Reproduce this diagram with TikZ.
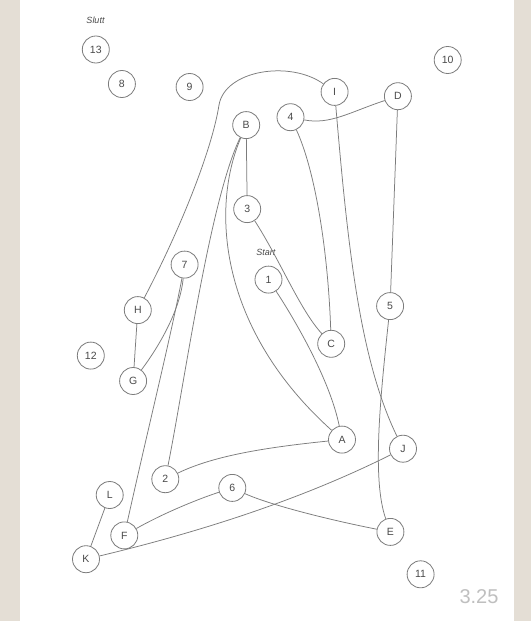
\documentclass[tikz,border=0pt]{standalone}
\usepackage{fontspec}
\setmainfont{Liberation Sans}
\definecolor{paperbg}{HTML}{E4DED5}
\definecolor{pencil}{HTML}{7C7C7C}
\definecolor{ink}{HTML}{4A4A4A}

\begin{document}
\begin{tikzpicture}[
  x=1pt, y=-1pt,
  circ/.style={draw=pencil, circle, line width=0.8pt, minimum size=27pt, inner sep=0pt, text=ink, font=\fontsize{10.5}{11}\selectfont},
  tag/.style={text=ink, inner sep=0pt, font=\fontsize{9}{10}\selectfont\itshape},
  trail/.style={draw=pencil, line width=0.75pt}
]
\fill[paperbg] (0,0) rectangle (531,621);
\fill[white] (20,0) rectangle (514,621);
\useasboundingbox (0,0) rectangle (531,621);

% numbers
\node[circ] (n13) at (95.8,49.5) {13};
\node[circ] (n8) at (121.9,84) {8};
\node[circ] (n9) at (189.6,87) {9};
\node[circ] (n10) at (447.7,60) {10};
\node[circ] (n4) at (290.5,117.2) {4};
\node[circ] (n3) at (247.2,209.1) {3};
\node[circ] (n1) at (268.5,279.6) {1};
\node[circ] (n7) at (184.6,264.6) {7};
\node[circ] (n5) at (390.1,306.1) {5};
\node[circ] (n12) at (90.8,355.6) {12};
\node[circ] (n2) at (165.3,479.2) {2};
\node[circ] (n6) at (232.3,487.9) {6};
\node[circ] (n11) at (420.6,574.3) {11};

% letters
\node[circ] (I) at (334.6,91.9) {I};
\node[circ] (D) at (397.9,96.2) {D};
\node[circ] (B) at (246.2,125.1) {B};
\node[circ] (H) at (137.8,310.1) {H};
\node[circ] (C) at (331.2,343.8) {C};
\node[circ] (G) at (133.1,381) {G};
\node[circ] (A) at (342,439.6) {A};
\node[circ] (J) at (403,448.7) {J};
\node[circ] (L) at (109.7,495) {L};
\node[circ] (F) at (124.3,535.4) {F};
\node[circ] (E) at (390.4,531.9) {E};
\node[circ] (K) at (86,559.2) {K};

% tags
\node[tag] (slutt) at (95.5,20.6) {Slutt};
\node[tag] (start) at (265.8,251.9) {Start};
\node[text=gray!50, font=\fontsize{20}{22}\selectfont] (score) at (479,597) {3.25};

% trail
\draw[trail] (n1) .. controls (295,320) and (330,380) .. (A);
\draw[trail] (B) .. controls (210,210) and (220,330) .. (A);
\draw[trail] (A) .. controls (270,447) and (215,455) .. (n2);
\draw[trail] (n2) .. controls (185,380) and (210,200) .. (B);
\draw[trail] (B) -- (n3);
\draw[trail] (n3) .. controls (280,260) and (300,310) .. (C);
\draw[trail] (n4) .. controls (315,170) and (328,250) .. (C);
\draw[trail] (n4) .. controls (330,125) and (350,112) .. (D);
\draw[trail] (D) -- (n5);
\draw[trail] (n5) .. controls (380,400) and (372,480) .. (E);
\draw[trail] (E) .. controls (330,520) and (270,505) .. (n6);
\draw[trail] (n6) .. controls (195,500) and (160,515) .. (F);
\draw[trail] (F) .. controls (150,420) and (170,340) .. (n7);
\draw[trail] (n7) .. controls (180,310) and (160,345) .. (G);
\draw[trail] (G) -- (H);
\draw[trail] (H) .. controls (180,230) and (212,150) .. (219,105) .. controls (225,70) and (290,60) .. (I);
\draw[trail] (I) .. controls (348,250) and (360,360) .. (J);
\draw[trail] (J) .. controls (340,480) and (250,520) .. (K);
\draw[trail] (K) -- (L);
\end{tikzpicture}
\end{document}
